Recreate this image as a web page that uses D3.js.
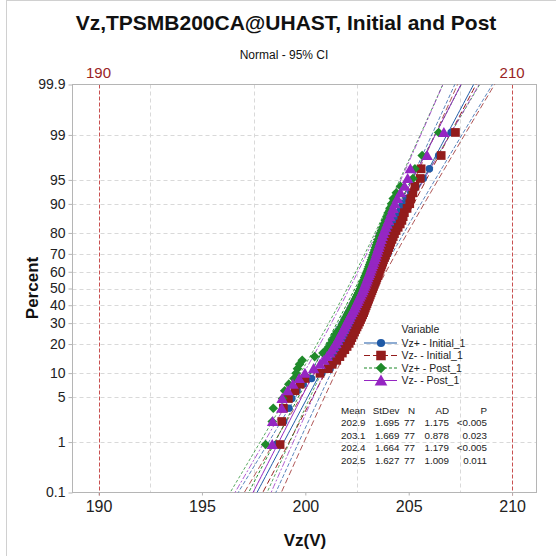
<!DOCTYPE html>
<html>
<head>
<meta charset="utf-8">
<script src="https://cdn.jsdelivr.net/npm/d3@7"></script>
<style>
  html, body { margin: 0; padding: 0; background: #fff; }
  svg { display: block; font-family: "Liberation Sans", Arial, sans-serif; }
</style>
</head>
<body>
<svg id="chart" width="556" height="556"></svg>
<script>
// ---------------- data ----------------
const seriesNames = ["Vz+ - Initial_1", "Vz- - Initial_1", "Vz+ - Post_1", "Vz- - Post_1"];

const vzPlusInitial = [
  198.60, 198.95, 199.21, 199.35, 199.60, 199.90, 200.30, 200.80, 201.20, 201.35,
  201.38, 201.48, 201.58, 201.67, 201.76, 201.84, 201.92, 201.99, 202.06, 202.13,
  202.20, 202.26, 202.32, 202.38, 202.44, 202.50, 202.55, 202.60, 202.65, 202.70,
  202.75, 202.79, 202.83, 202.87, 202.91, 202.95, 202.99, 203.03, 203.07, 203.11,
  203.15, 203.19, 203.23, 203.27, 203.31, 203.35, 203.39, 203.43, 203.47, 203.51,
  203.55, 203.59, 203.63, 203.67, 203.71, 203.76, 203.81, 203.86, 203.91, 203.96,
  204.02, 204.08, 204.15, 204.22, 204.29, 204.37, 204.45, 204.53, 204.61, 204.69,
  204.90, 205.10, 205.35, 205.70, 206.00, 206.45, 207.05
];
const vzMinusInitial = [
  198.78, 198.86, 198.94, 199.18, 199.50, 199.75, 199.98, 200.71, 201.11, 201.30,
  201.52, 201.67, 201.79, 201.91, 202.02, 202.12, 202.19, 202.25, 202.32, 202.38,
  202.44, 202.50, 202.56, 202.62, 202.67, 202.72, 202.77, 202.82, 202.86, 202.90,
  202.94, 202.98, 203.02, 203.06, 203.10, 203.14, 203.18, 203.22, 203.26, 203.30,
  203.34, 203.38, 203.42, 203.46, 203.50, 203.54, 203.58, 203.62, 203.66, 203.70,
  203.74, 203.78, 203.83, 203.88, 203.93, 203.98, 204.03, 204.08, 204.13, 204.19,
  204.25, 204.31, 204.39, 204.49, 204.59, 204.67, 204.73, 204.79, 204.92, 205.05,
  205.10, 205.20, 205.30, 205.56, 205.60, 206.57, 207.26
];
const vzPlusPost = [
  198.08, 198.40, 198.45, 198.90, 199.00, 199.20, 199.45, 199.55, 199.62, 199.72,
  199.85, 200.45, 200.85, 201.05, 201.15, 201.24, 201.32, 201.39, 201.46, 201.53,
  201.67, 201.73, 201.79, 201.85, 201.91, 201.97, 202.03, 202.09, 202.15, 202.21,
  202.27, 202.32, 202.37, 202.42, 202.47, 202.52, 202.57, 202.62, 202.67, 202.71,
  202.75, 202.79, 202.83, 202.87, 202.91, 202.95, 202.99, 203.03, 203.07, 203.11,
  203.15, 203.19, 203.23, 203.27, 203.31, 203.35, 203.39, 203.43, 203.47, 203.52,
  203.57, 203.62, 203.68, 203.74, 203.80, 203.87, 203.94, 204.01, 204.09, 204.17,
  204.25, 204.40, 204.60, 205.20, 205.30, 205.65, 206.45
];
const vzMinusPost = [
  198.40, 198.42, 198.86, 198.88, 199.15, 199.40, 199.70, 199.98, 200.40, 200.71,
  200.90, 201.05, 201.18, 201.28, 201.38, 201.48, 201.56, 201.63, 201.70, 201.77,
  201.84, 201.90, 201.96, 202.02, 202.08, 202.14, 202.20, 202.26, 202.32, 202.38,
  202.43, 202.48, 202.53, 202.58, 202.63, 202.68, 202.73, 202.78, 202.82, 202.86,
  202.90, 202.94, 202.98, 203.02, 203.06, 203.10, 203.14, 203.18, 203.22, 203.26,
  203.30, 203.34, 203.38, 203.42, 203.46, 203.50, 203.54, 203.58, 203.62, 203.67,
  203.72, 203.77, 203.83, 203.89, 203.95, 204.02, 204.09, 204.16, 204.24, 204.33,
  204.45, 204.60, 204.80, 204.95, 205.08, 205.89, 206.70
];

// summary table
const statMean  = [202.9, 203.1, 202.4, 202.5];
const statStDev = [1.695, 1.669, 1.664, 1.627];
const statN     = [77, 77, 77, 77];
const statAD    = ["1.175", "0.878", "1.179", "1.009"];
const statP     = ["<0.005", "0.023", "<0.005", "0.011"];
const tableHeader = ["Mean", "StDev", "N", "AD", "P"];

// axes
const yTickPercents = [0.1, 1, 5, 10, 20, 30, 40, 50, 60, 70, 80, 90, 95, 99, 99.9];
const yGridPercents = [1, 5, 10, 20, 30, 40, 50, 60, 70, 80, 90, 95, 99];
const xTicks = [190, 195, 200, 205, 210];
const xGrid = [192.5, 197.5, 202.5, 207.5];
const refLines = [190, 210];

const titleText = "Vz,TPSMB200CA@UHAST, Initial and Post";
const subtitleText = "Normal - 95% CI";
const xLabel = "Vz(V)";
const yLabel = "Percent";
const legendTitle = "Variable";

// ---------------- helpers ----------------
function qnorm(p) {
  const a = [-3.969683028665376e+01, 2.209460984245205e+02, -2.759285104469687e+02, 1.383577518672690e+02, -3.066479806614716e+01, 2.506628277459239e+00];
  const b = [-5.447609879822406e+01, 1.615858368580409e+02, -1.556989798598866e+02, 6.680131188771972e+01, -1.328068155288572e+01];
  const c = [-7.784894002430293e-03, -3.223964580411365e-01, -2.400758277161838e+00, -2.549732539343734e+00, 4.374664141464968e+00, 2.938163982698783e+00];
  const d = [7.784695709041462e-03, 3.224671290700398e-01, 2.445134137142996e+00, 3.754408661907416e+00];
  const pl = 0.02425, ph = 1 - pl;
  let q, r;
  if (p < pl) {
    q = Math.sqrt(-2 * Math.log(p));
    return (((((c[0]*q+c[1])*q+c[2])*q+c[3])*q+c[4])*q+c[5]) / ((((d[0]*q+d[1])*q+d[2])*q+d[3])*q+1);
  }
  if (p <= ph) {
    q = p - 0.5; r = q * q;
    return (((((a[0]*r+a[1])*r+a[2])*r+a[3])*r+a[4])*r+a[5])*q / (((((b[0]*r+b[1])*r+b[2])*r+b[3])*r+b[4])*r+1);
  }
  q = Math.sqrt(-2 * Math.log(1 - p));
  return -(((((c[0]*q+c[1])*q+c[2])*q+c[3])*q+c[4])*q+c[5]) / ((((d[0]*q+d[1])*q+d[2])*q+d[3])*q+1);
}

const diamond = {
  draw(ctx, size) {
    const r = Math.sqrt(size / 2);
    ctx.moveTo(0, -r); ctx.lineTo(r, 0); ctx.lineTo(0, r); ctx.lineTo(-r, 0); ctx.closePath();
  }
};
const triangle = {
  draw(ctx, size) {
    const s = Math.sqrt(size * 4 / Math.sqrt(3));
    const h = s * Math.sqrt(3) / 2;
    ctx.moveTo(0, -h / 2 - 0.5); ctx.lineTo(s / 2, h / 2 - 0.5); ctx.lineTo(-s / 2, h / 2 - 0.5); ctx.closePath();
  }
};

const seriesData = [vzPlusInitial, vzMinusInitial, vzPlusPost, vzMinusPost];
const colors = ["#1f5aa6", "#931c1c", "#1f8a2a", "#9526c2"];
const symbols = [d3.symbolCircle, d3.symbolSquare, diamond, triangle];
const symSizes = [44, 76, 46, 58];
const dashes = [null, "6,3", "3,2", null];
const ciDashes = ["4,2", "6,3", "3,2", "6,2,2,2"];

// ---------------- layout ----------------
const svg = d3.select("#chart");
const W = 556, H = 556;
const plot = { left: 72.5, right: 536.5, top: 84.5, bottom: 492.5 };

const x = d3.scaleLinear().domain([188.74, 211.18]).range([plot.left, plot.right]);
const zTop = qnorm(0.999);
const y = d3.scaleLinear().domain([-zTop, zTop]).range([plot.bottom, plot.top]);

// frame lines of the screenshot
svg.append("line").attr("x1", 6.5).attr("x2", 6.5).attr("y1", 0).attr("y2", H).attr("stroke", "#d0d0d0");
svg.append("line").attr("x1", 6.5).attr("x2", W).attr("y1", 0.5).attr("y2", 0.5).attr("stroke", "#d0d0d0");

// titles
svg.append("text").attr("x", 286).attr("y", 29.5).attr("text-anchor", "middle")
  .attr("font-size", 21).attr("font-weight", "bold").attr("fill", "#111").text(titleText);
svg.append("text").attr("x", 284).attr("y", 59).attr("text-anchor", "middle")
  .attr("font-size", 12).attr("fill", "#111").text(subtitleText);

const clip = svg.append("defs").append("clipPath").attr("id", "plotclip");
clip.append("rect").attr("x", plot.left).attr("y", plot.top)
  .attr("width", plot.right - plot.left).attr("height", plot.bottom - plot.top);

const gGrid = svg.append("g");
// horizontal grid
gGrid.selectAll("line.hg").data(yGridPercents).join("line")
  .attr("x1", plot.left).attr("x2", plot.right)
  .attr("y1", d => Math.round(y(qnorm(d / 100))) + 0.5)
  .attr("y2", d => Math.round(y(qnorm(d / 100))) + 0.5)
  .attr("stroke", "#d9d9d9").attr("stroke-dasharray", "4,3");
// vertical grid
gGrid.selectAll("line.vg").data(xGrid).join("line")
  .attr("x1", d => Math.round(x(d)) + 0.5).attr("x2", d => Math.round(x(d)) + 0.5)
  .attr("y1", plot.top).attr("y2", plot.bottom)
  .attr("stroke", "#d9d9d9").attr("stroke-dasharray", "4,3");

// reference lines
svg.selectAll("line.ref").data(refLines).join("line")
  .attr("x1", d => Math.round(x(d)) + 0.5).attr("x2", d => Math.round(x(d)) + 0.5)
  .attr("y1", plot.top).attr("y2", plot.bottom + 3)
  .attr("stroke", "#c85050").attr("stroke-dasharray", "4,2");
svg.selectAll("text.ref").data(refLines).join("text")
  .attr("x", d => x(d)).attr("y", 78).attr("text-anchor", "middle")
  .attr("font-size", 15).attr("fill", "#992424").text(d => d);

// frame
svg.append("rect").attr("x", plot.left).attr("y", plot.top)
  .attr("width", plot.right - plot.left).attr("height", plot.bottom - plot.top)
  .attr("fill", "none").attr("stroke", "#b5b5b5");

// y axis
const yAxis = d3.axisLeft(y)
  .tickValues(yTickPercents.map(p => qnorm(p / 100)))
  .tickFormat((d, i) => String(yTickPercents[i]))
  .tickSize(4).tickPadding(3);
const gy = svg.append("g").attr("transform", `translate(${plot.left},0)`).call(yAxis);
gy.select(".domain").remove();
gy.selectAll(".tick line").attr("stroke", "#b5b5b5");
gy.selectAll(".tick text").attr("font-size", 14).attr("fill", "#222")
  .attr("font-family", "Liberation Sans, Arial, sans-serif");

// x axis
const xAxis = d3.axisBottom(x).tickValues(xTicks).tickFormat(d3.format("d")).tickSize(3).tickPadding(5);
const gx = svg.append("g").attr("transform", `translate(0,${plot.bottom})`).call(xAxis);
gx.select(".domain").remove();
gx.selectAll(".tick line").attr("stroke", "#b5b5b5");
gx.selectAll(".tick text").attr("font-size", 16).attr("fill", "#222")
  .attr("font-family", "Liberation Sans, Arial, sans-serif");

// axis labels
svg.append("text").attr("x", 305).attr("y", 546).attr("text-anchor", "middle")
  .attr("font-size", 17).attr("font-weight", "bold").attr("fill", "#111").text(xLabel);
svg.append("text").attr("transform", "translate(38,288) rotate(-90)").attr("text-anchor", "middle")
  .attr("font-size", 17).attr("font-weight", "bold").attr("fill", "#111").text(yLabel);

// fitted lines and CI
const zs = d3.range(-3.2, 3.2001, 0.05);
const gLines = svg.append("g").attr("clip-path", "url(#plotclip)");
seriesData.forEach((vals, k) => {
  const mu = statMean[k], sd = statStDev[k], n = statN[k];
  const fit = d3.line().x(z => x(mu + sd * z)).y(z => y(z));
  const ci = sgn => d3.line()
    .x(z => x(mu + sd * z + sgn * 1.96 * sd * Math.sqrt((1 + z * z / 2) / n)))
    .y(z => y(z));
  gLines.append("path").attr("d", ci(-1)(zs)).attr("fill", "none")
    .attr("stroke", colors[k]).attr("stroke-width", 0.9).attr("stroke-dasharray", ciDashes[k]).attr("opacity", 0.85);
  gLines.append("path").attr("d", ci(1)(zs)).attr("fill", "none")
    .attr("stroke", colors[k]).attr("stroke-width", 0.9).attr("stroke-dasharray", ciDashes[k]).attr("opacity", 0.85);
  gLines.append("path").attr("d", fit(zs)).attr("fill", "none")
    .attr("stroke", colors[k]).attr("stroke-width", 1).attr("stroke-dasharray", dashes[k]);
});

// points
const gPts = svg.append("g");
seriesData.forEach((vals, k) => {
  const n = vals.length;
  const sorted = vals.slice().sort((a, b) => a - b);
  const pts = sorted.map((v, i) => ({ v, z: qnorm((i + 1 - 0.3) / (n + 0.4)) }));
  gPts.selectAll(null).data(pts).join("path")
    .attr("transform", d => `translate(${x(d.v)},${y(d.z)})`)
    .attr("d", d3.symbol(symbols[k], symSizes[k]))
    .attr("fill", colors[k]);
});

// legend
const lg = svg.append("g");
lg.append("text").attr("x", 401.5).attr("y", 333).attr("font-size", 10.5).attr("fill", "#222").text(legendTitle);
const legY = [343, 355.5, 368, 380.5];
seriesNames.forEach((name, k) => {
  const yy = legY[k];
  lg.append("line").attr("x1", 364).attr("x2", 397).attr("y1", yy).attr("y2", yy)
    .attr("stroke", colors[k]).attr("stroke-width", 1.1).attr("stroke-dasharray", dashes[k]);
  lg.append("path").attr("transform", `translate(381,${yy})`)
    .attr("d", d3.symbol(symbols[k], symSizes[k] * 1.2)).attr("fill", colors[k]);
  lg.append("text").attr("x", 401.5).attr("y", yy + 3.8).attr("font-size", 10.5).attr("fill", "#222").text(name);
});

// stats table
const tg = svg.append("g").attr("font-size", 9.8).attr("fill", "#222");
const colX = [367, 399.5, 415, 449, 487];
const rowY0 = 413.5, rowDy = 12.6;
tableHeader.forEach((h, c) => {
  tg.append("text").attr("x", c === 0 ? 341 : colX[c]).attr("y", rowY0)
    .attr("text-anchor", c === 0 ? "start" : "end").text(h);
});
statMean.forEach((m, r) => {
  const yy = rowY0 + rowDy * (r + 1);
  const cells = [m.toFixed(1), statStDev[r].toFixed(3), String(statN[r]), statAD[r], statP[r]];
  cells.forEach((t, c) => {
    tg.append("text").attr("x", c === 0 ? 341 : colX[c]).attr("y", yy)
      .attr("text-anchor", c === 0 ? "start" : "end").text(t);
  });
});
</script>
</body>
</html>
